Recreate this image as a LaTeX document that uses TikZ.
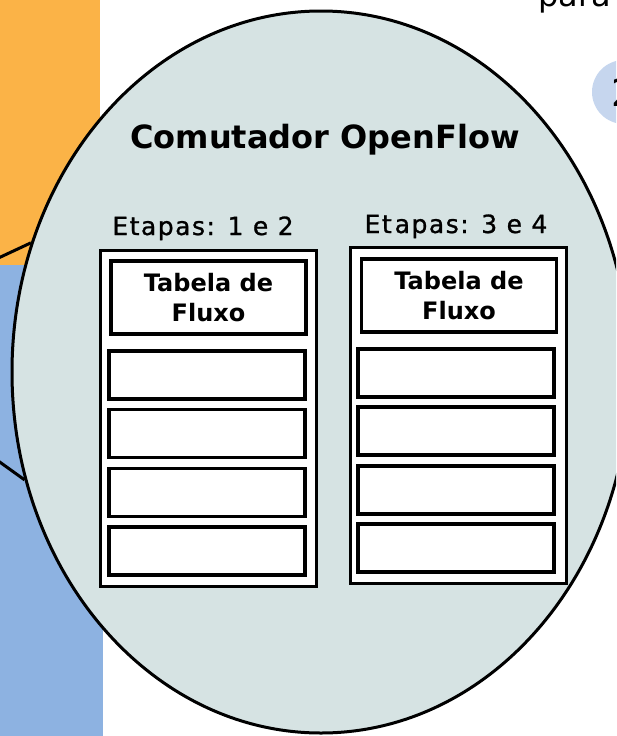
\documentclass[tikz,border=0pt]{standalone}
\usepackage{fontspec}
\setmainfont{DejaVu Sans}
\usetikzlibrary{positioning, shapes.geometric}
\definecolor{laranja}{RGB}{251,179,71}
\definecolor{azulfundo}{RGB}{141,178,225}
\definecolor{cinzaazul}{RGB}{214,227,227}
\definecolor{azulclaro}{RGB}{198,214,238}

\begin{document}
\begin{tikzpicture}[x=1pt, y=-1pt,
        balao/.style={ellipse, draw, line width=3pt, fill=cinzaazul,
                      minimum width=618pt, minimum height=722pt, inner sep=0pt},
        coluna/.style={draw, line width=3pt, fill=white,
                       minimum width=216pt, minimum height=336pt, inner sep=0pt},
        tabela/.style={draw, line width=3.8pt, fill=white, align=center,
                       minimum width=195pt, minimum height=73pt, inner sep=0pt,
                       font=\fontsize{24}{30}\selectfont\bfseries},
        linha/.style={draw, line width=3.8pt, fill=white,
                      minimum width=196pt, minimum height=48pt, inner sep=0pt},
        etapa/.style={anchor=base, inner sep=0pt,
                      font=\fontsize{25}{30}\selectfont\addfontfeature{LetterSpace=6,FakeBold=1}},
    ]
    \useasboundingbox (0,0) rectangle (616,736);
    \clip (0,0) rectangle (616,736);

    % fundo do slide
    \fill[laranja] (0,0) rectangle (100,265);
    \fill[azulfundo] (0,265) rectangle (103,736);
    \node[font=\fontsize{32}{38}\selectfont, anchor=base west, inner sep=0pt] (para) at (538,6) {para};
    \node[circle, fill=azulclaro, minimum size=64pt, inner sep=0pt,
          font=\fontsize{38}{44}\selectfont] (num) at (624,92) {2};

    % comutador
    \node[balao] (sw) at (321,372) {};
    \coordinate (ponta) at (-173,338);
    \draw[line width=3pt] (sw.156.8) -- (ponta) -- (sw.200);
    \node[font=\fontsize{32}{38}\selectfont\bfseries, anchor=base] (titulo) at (325,148) {Comutador OpenFlow};

    % etapas 1 e 2
    \node[coluna] (col1) at (208,418) {};
    \node[etapa] (et1) at (203,235) {Etapas: 1 e 2};
    \node[tabela] (tab1) at (208.5,297.5) {Tabela de\\Fluxo};
    \foreach \i/\y in {1/375,2/433.5,3/492.5,4/551} {
        \node[linha] (l1\i) at (207,\y) {};
    }

    % etapas 3 e 4
    \node[coluna] (col2) at (458,415) {};
    \node[etapa] (et2) at (456,233) {Et\kern3pt apas: 3 e 4};
    \node[tabela] (tab2) at (459,295.5) {Tabela de\\Fluxo};
    \foreach \i/\y in {1/373,2/431,3/490,4/548} {
        \node[linha] (l2\i) at (456,\y) {};
    }
\end{tikzpicture}
\end{document}
